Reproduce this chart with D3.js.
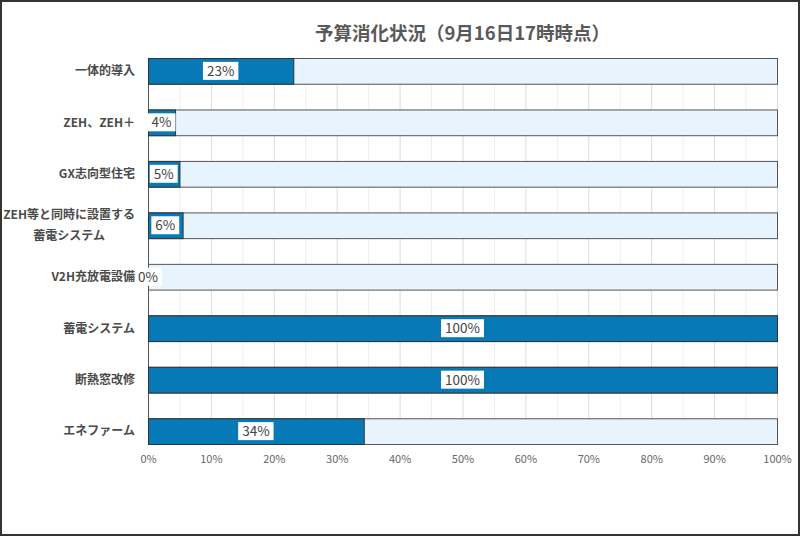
<!DOCTYPE html>
<html>
<head>
<meta charset="utf-8">
<script src="https://cdn.jsdelivr.net/npm/d3@7"></script>
<style>
  body { margin: 0; background: #fff; }
  text { font-family: "Noto Sans CJK JP", "Noto Sans", sans-serif; }
</style>
</head>
<body>
<div id="chart"></div>
<script>
  const width = 800;
  const height = 536;

  const title = "予算消化状況（9月16日17時時点）";
  const categories = [
    ["一体的導入"],
    ["ZEH、ZEH＋"],
    ["GX志向型住宅"],
    ["ZEH等と同時に設置する", "蓄電システム"],
    ["V2H充放電設備"],
    ["蓄電システム"],
    ["断熱窓改修"],
    ["エネファーム"]
  ];
  // labels show the rounded value
  const values = [23.1, 4.3, 5.0, 5.5, 0, 100, 100, 34.3];
  const xTicks = [0, 10, 20, 30, 40, 50, 60, 70, 80, 90, 100];

  const fillColor = "#0779b6";
  const restColor = "#e8f4fd";

  const svg = d3.select("#chart")
    .append("svg")
    .attr("width", width)
    .attr("height", height);

  // outer frame
  svg.append("rect")
    .attr("x", 1).attr("y", 1)
    .attr("width", width - 2).attr("height", height - 2)
    .attr("fill", "#fff")
    .attr("stroke", "#333")
    .attr("stroke-width", 2);

  const x = d3.scaleLinear().domain([0, 100]).range([148, 777]);
  const y = d3.scaleBand()
    .domain(d3.range(categories.length))
    .range([58, 444])
    .paddingInner(0.5)
    .paddingOuter(0);

  // grid lines every 5%, darker at 10%
  svg.append("g").selectAll("line")
    .data(d3.range(0, 101, 5))
    .enter()
    .append("line")
    .attr("x1", d => x(d) + 0.5)
    .attr("x2", d => x(d) + 0.5)
    .attr("y1", y.range()[0])
    .attr("y2", y.range()[1])
    .attr("stroke", d => d % 10 === 0 ? "#dcdcdc" : "#efefef");

  // left axis line
  svg.append("line")
    .attr("x1", x(0) + 0.5).attr("x2", x(0) + 0.5)
    .attr("y1", y.range()[0]).attr("y2", y.range()[1])
    .attr("stroke", "#555");

  // title
  svg.append("text")
    .attr("x", (x(0) + x(100)) / 2)
    .attr("y", 40)
    .attr("text-anchor", "middle")
    .attr("font-size", 18.5)
    .attr("font-weight", "bold")
    .attr("fill", "#595959")
    .text(title);

  const rows = svg.append("g").selectAll("g")
    .data(values.map((v, i) => ({ v, i })))
    .enter()
    .append("g");

  // remaining budget (background bar)
  rows.append("rect")
    .attr("x", x(0) + 0.5)
    .attr("y", d => y(d.i) + 0.5)
    .attr("width", x(100) - x(0))
    .attr("height", y.bandwidth())
    .attr("fill", restColor)
    .attr("stroke", "#555");

  // used budget
  rows.filter(d => d.v > 0)
    .append("rect")
    .attr("x", x(0) + 0.5)
    .attr("y", d => y(d.i) + 0.5)
    .attr("width", d => x(d.v) - x(0))
    .attr("height", y.bandwidth())
    .attr("fill", fillColor)
    .attr("stroke", "#333");

  // value labels with white box
  rows.each(function(d) {
    const g = d3.select(this);
    const cx = (x(0) + x(d.v)) / 2;
    const cy = y(d.i) + y.bandwidth() / 2;
    const box = g.append("rect").attr("fill", "#fff");
    const t = g.append("text")
      .attr("x", cx)
      .attr("y", cy)
      .attr("dy", "0.36em")
      .attr("text-anchor", "middle")
      .attr("font-size", 13.5)
      .attr("font-family", "\"Noto Sans\", sans-serif")
      .attr("fill", "#444")
      .text(Math.round(d.v) + "%");
    const w = t.node().getComputedTextLength();
    box.attr("x", cx - w / 2 - 4)
      .attr("y", cy - 9)
      .attr("width", w + 8)
      .attr("height", 18);
  });

  // category labels (multi-line block is centred, block right aligned)
  const labels = svg.append("g");
  categories.forEach((lines, i) => {
    const cy = y(i) + y.bandwidth() / 2;
    const lineH = 21;
    const t = labels.append("text")
      .attr("font-size", 12)
      .attr("font-weight", "bold")
      .attr("fill", "#4a4a4a")
      .attr("text-anchor", "middle");
    lines.forEach((s, k) => {
      t.append("tspan")
        .attr("y", cy + (k - (lines.length - 1) / 2) * lineH)
        .attr("dy", "0.36em")
        .text(s);
    });
    const w = d3.max(t.selectAll("tspan").nodes(), n => n.getComputedTextLength());
    t.selectAll("tspan").attr("x", 135 - w / 2);
  });

  // x axis tick labels
  const xAxis = d3.axisBottom(x)
    .tickValues(xTicks)
    .tickFormat(d => d + "%")
    .tickSize(0)
    .tickPadding(0);

  svg.append("g")
    .attr("transform", "translate(0,455)")
    .call(xAxis)
    .call(g => g.select(".domain").remove())
    .call(g => g.selectAll("text")
      .attr("font-size", 11)
      .attr("fill", "#666")
      .attr("font-family", "\"Noto Sans CJK JP\", sans-serif"));
</script>
</body>
</html>
